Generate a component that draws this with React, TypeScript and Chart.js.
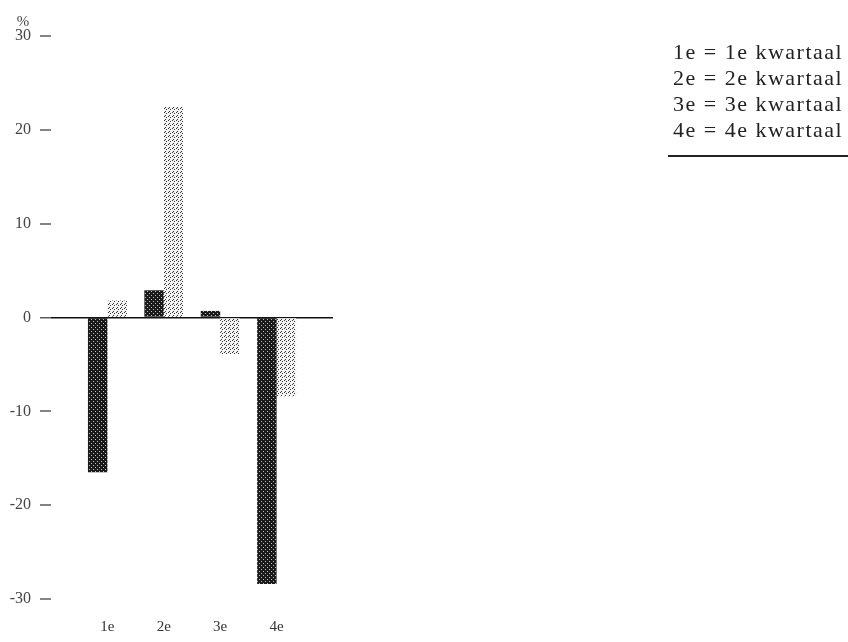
import React, { useEffect, useRef } from 'react';
import { Chart, registerables } from 'chart.js';

Chart.register(...registerables);

// ---- data ----
const categories = ['1e', '2e', '3e', '4e'];
const seriesDark = [-16.5, 2.9, 0.7, -28.4];
const seriesLight = [1.8, 22.5, -3.9, -8.4];
const yMin = -30;
const yMax = 30;
const yStep = 10;
const yUnit = '%';
const legendLines = ['1e = 1e kwartaal', '2e = 2e kwartaal', '3e = 3e kwartaal', '4e = 4e kwartaal'];

const FONT = '"Liberation Serif", "Times New Roman", serif';

function makePattern(bg: string, dot: string, dots: number[][], size: number) {
  const c = document.createElement('canvas');
  c.width = size;
  c.height = size;
  const g = c.getContext('2d')!;
  g.fillStyle = bg;
  g.fillRect(0, 0, size, size);
  g.fillStyle = dot;
  dots.forEach(([x, y]) => g.fillRect(x, y, 1, 1));
  return g.createPattern(c, 'repeat')!;
}

const unitPlugin = {
  id: 'unitLabel',
  afterDraw(chart: any) {
    const { ctx, chartArea, scales } = chart;
    const ys = scales.y;
    ctx.save();
    ctx.font = `15px ${FONT}`;
    ctx.fillStyle = '#444';
    ctx.textAlign = 'center';
    ctx.textBaseline = 'middle';
    ctx.fillText(yUnit, ys.left + 23, chartArea.top - 14);
    ctx.restore();
  },
};

export default function App() {
  const ref = useRef<HTMLCanvasElement | null>(null);

  useEffect(() => {
    if (!ref.current) return;
    const darkPat = makePattern('#1a1a1a', '#c0c0c0', [[1, 1], [3, 3]], 4);
    const lightPat = makePattern('#f3f3f3', '#333333', [[0, 0], [2, 1], [1, 3]], 4);

    const chart = new Chart(ref.current, {
      type: 'bar',
      data: {
        datasets: [
          {
            data: categories.map((_, i) => ({ x: i, y: seriesDark[i] })),
            backgroundColor: darkPat as any,
            borderWidth: 0,
            barPercentage: 1,
            categoryPercentage: 0.69,
          },
          {
            data: categories.map((_, i) => ({ x: i, y: seriesLight[i] })),
            backgroundColor: lightPat as any,
            borderWidth: 0,
            barPercentage: 1,
            categoryPercentage: 0.69,
          },
        ],
      },
      options: {
        responsive: false,
        animation: false,
        devicePixelRatio: 1,
        layout: { padding: { top: 36, right: 515, bottom: 0, left: 0 } },
        plugins: { legend: { display: false }, tooltip: { enabled: false }, title: { display: false } },
        scales: {
          x: {
            type: 'linear',
            offset: false,
            min: -1,
            max: categories.length,
            grid: { display: false, drawTicks: false, offset: false },
            border: { display: false },
            ticks: {
              stepSize: 1,
              autoSkip: false,
              maxRotation: 0,
              padding: 19,
              color: '#333',
              font: { family: FONT, size: 15 },
              callback: (v: any) => (categories[v as number] !== undefined ? categories[v as number] : ''),
            },
            afterFit: (s: any) => {
              s.height = 43;
            },
          },
          y: {
            type: 'linear',
            min: yMin,
            max: yMax,
            grid: {
              drawTicks: true,
              tickLength: 11,
              tickColor: '#333',
              tickWidth: 1.2,
              color: (c: any) => (c.tick && c.tick.value === 0 ? '#111' : 'rgba(0,0,0,0)'),
              lineWidth: (c: any) => (c.tick && c.tick.value === 0 ? 1.6 : 0),
            },
            border: { display: false },
            ticks: {
              stepSize: yStep,
              padding: 9,
              color: '#444',
              font: { family: FONT, size: 16 },
            },
            afterFit: (s: any) => {
              s.width = 51;
            },
          },
        },
      },
      plugins: [unitPlugin],
    } as any);
    return () => chart.destroy();
  }, []);

  return (
    <div style={{ position: 'absolute', left: 0, top: 0, width: 848, height: 642, background: '#fff' }}>
      <canvas ref={ref} width={848} height={642} style={{ position: 'absolute', left: 0, top: 0 }} />
      <div
        style={{
          position: 'absolute',
          left: 668,
          top: 39,
          width: 180,
          paddingLeft: 5,
          boxSizing: 'border-box',
          paddingBottom: 12,
          borderBottom: '2px solid #222',
          fontFamily: FONT,
          fontSize: 22,
          lineHeight: '26px',
          letterSpacing: '1.5px',
          color: '#222',
          whiteSpace: 'nowrap',
        }}
      >
        {legendLines.map((t) => (
          <div key={t}>{t}</div>
        ))}
      </div>
    </div>
  );
}
